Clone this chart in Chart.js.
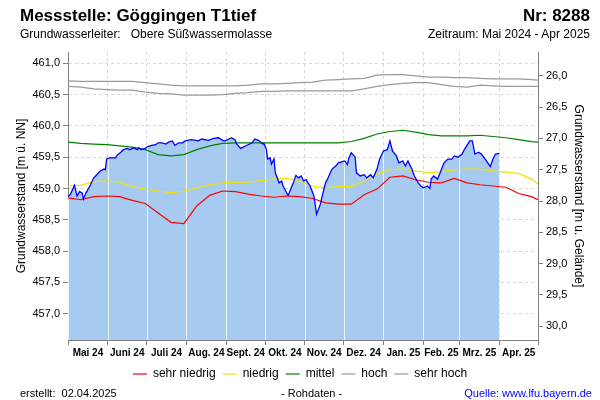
<!DOCTYPE html>
<html lang="de">
<head>
<meta charset="utf-8">
<title>Messstelle Göggingen T1tief</title>
<script src="https://cdn.jsdelivr.net/npm/chart.js@4.4.1/dist/chart.umd.min.js"></script>
<style>
  html, body { margin: 0; padding: 0; background: #fff; }
  #wrap { position: relative; width: 600px; height: 400px; font-family: "Liberation Sans", Arial, sans-serif; color: #000; }
  #wrap canvas { position: absolute; left: 0; top: 0; }
  .txt { position: absolute; white-space: pre; line-height: 1; }
  .titel { top: 7px; font-size: 17px; font-weight: bold; }
  .unter { top: 28px; font-size: 12px; }
  .fuss { top: 388px; font-size: 11px; }
</style>
</head>
<body>
<div id="wrap">
  <canvas id="grafik" width="600" height="400"></canvas>
  <div class="txt titel" style="left:20px">Messstelle: Göggingen T1tief</div>
  <div class="txt titel" style="right:10px">Nr: 8288</div>
  <div class="txt unter" style="left:20px">Grundwasserleiter:   Obere Süßwassermolasse</div>
  <div class="txt unter" style="right:10px">Zeitraum: Mai 2024 - Apr 2025</div>
  <div class="txt fuss" style="left:20px">erstellt:  02.04.2025</div>
  <div class="txt fuss" style="left:281px">- Rohdaten -</div>
  <div class="txt fuss" style="right:8px;color:#0000ff">Quelle: www.lfu.bayern.de</div>
</div>
<script>
// Tage ab 01.05.2024
const monatsGrenzen = [0, 31, 61, 92, 123, 153, 184, 214, 245, 276, 304, 335, 365];
const monatsLabels = ['Mai 24', 'Juni 24', 'Juli 24', 'Aug. 24', 'Sept. 24', 'Okt. 24', 'Nov. 24', 'Dez. 24', 'Jan. 25', 'Feb. 25', 'Mrz. 25', 'Apr. 25'];
const linksTicks = [457, 457.5, 458, 458.5, 459, 459.5, 460, 460.5, 461];
const rechtsTicks = [26, 26.5, 27, 27.5, 28, 28.5, 29, 29.5, 30];
const gelaende = 486.80;
const yMin = 456.58, yMax = 461.18;

// Messwerte (Rohdaten)
const messTage = [0, 2, 5, 7, 9, 11, 12, 14, 17, 20, 22, 25, 28, 29, 30, 32, 37, 38, 41, 43, 46, 48, 51, 54, 55, 57,
  60, 62, 65, 68, 70, 73, 76, 78, 81, 83, 86, 89, 91, 96, 101, 104, 109, 113, 117, 120, 122, 125, 127, 130, 131, 134,
  136, 139, 143, 145, 148, 151, 152, 154, 155, 157, 158, 160, 161, 164, 166, 167, 169, 171, 173, 175, 177, 179, 181,
  183, 185, 186, 188, 191, 193, 196, 198, 200, 202, 205, 208, 210, 213, 215, 217, 218, 220, 223, 224, 227, 230, 232,
  235, 237, 240, 242, 245, 248, 250, 252, 255, 257, 260, 262, 264, 267, 269, 272, 274, 276, 279, 281, 282, 284, 287,
  289, 292, 295, 298, 300, 303, 306, 308, 312, 314, 316, 319, 321, 324, 328, 330, 332, 335];
const messWerte = [458.87, 458.91, 459.05, 458.88, 458.95, 458.93, 458.83, 458.93, 459.04, 459.17, 459.21, 459.28,
  459.31, 459.30, 459.47, 459.49, 459.49, 459.53, 459.58, 459.62, 459.64, 459.62, 459.65, 459.62, 459.65, 459.62,
  459.64, 459.67, 459.69, 459.70, 459.73, 459.73, 459.71, 459.74, 459.76, 459.69, 459.73, 459.73, 459.76, 459.78,
  459.76, 459.79, 459.77, 459.80, 459.81, 459.77, 459.76, 459.79, 459.81, 459.77, 459.71, 459.64, 459.66, 459.69,
  459.73, 459.79, 459.77, 459.71, 459.72, 459.63, 459.47, 459.49, 459.39, 459.47, 459.25, 459.09, 459.12, 459.04,
  458.96, 458.89, 458.99, 459.09, 459.21, 459.17, 459.20, 459.12, 459.14, 459.10, 459.04, 458.88, 458.59, 458.75,
  458.93, 459.09, 459.17, 459.31, 459.36, 459.41, 459.43, 459.44, 459.38, 459.48, 459.57, 459.50, 459.25, 459.20,
  459.22, 459.17, 459.22, 459.17, 459.31, 459.47, 459.60, 459.62, 459.76, 459.60, 459.52, 459.41, 459.44, 459.36,
  459.44, 459.31, 459.20, 459.09, 459.04, 459.01, 459.04, 459.00, 459.15, 459.20, 459.15, 459.25, 459.41, 459.47,
  459.47, 459.52, 459.50, 459.55, 459.63, 459.76, 459.76, 459.55, 459.58, 459.55, 459.47, 459.35, 459.47, 459.55, 459.56];

// Statistik (Tageswerte der Vergleichsreihe)
const statTage = [0, 10, 20, 30, 40, 50, 60, 70, 80, 90, 100, 110, 120, 130, 140, 150, 160, 170, 180, 190, 200, 210,
  220, 230, 240, 250, 260, 270, 280, 290, 300, 310, 320, 330, 340, 350, 360, 365];
const sehrNiedrig = [458.85, 458.82, 458.87, 458.88, 458.87, 458.81, 458.76, 458.61, 458.46, 458.44, 458.72, 458.89,
  458.96, 458.95, 458.91, 458.88, 458.86, 458.88, 458.87, 458.84, 458.77, 458.75, 458.75, 458.90, 458.99, 459.18,
  459.20, 459.14, 459.10, 459.09, 459.16, 459.09, 459.06, 459.04, 459.02, 458.92, 458.87, 458.82];
const niedrig = [459.04, 459.05, 459.11, 459.12, 459.10, 459.03, 458.99, 458.96, 458.93, 458.96, 459.01, 459.06,
  459.09, 459.10, 459.10, 459.13, 459.15, 459.16, 459.12, 459.04, 459.01, 459.03, 459.03, 459.12, 459.23, 459.30,
  459.31, 459.28, 459.25, 459.27, 459.30, 459.31, 459.31, 459.28, 459.26, 459.24, 459.15, 459.07];
const mittel = [459.74, 459.72, 459.71, 459.70, 459.68, 459.66, 459.62, 459.54, 459.52, 459.54, 459.62, 459.68,
  459.72, 459.73, 459.73, 459.73, 459.73, 459.73, 459.73, 459.73, 459.73, 459.73, 459.75, 459.80, 459.87, 459.91,
  459.93, 459.90, 459.86, 459.84, 459.84, 459.84, 459.85, 459.83, 459.81, 459.78, 459.75, 459.74];
const hoch = [460.63, 460.62, 460.59, 460.58, 460.57, 460.57, 460.54, 460.52, 460.51, 460.49, 460.49, 460.49, 460.50,
  460.52, 460.53, 460.55, 460.55, 460.56, 460.56, 460.56, 460.56, 460.56, 460.56, 460.59, 460.63, 460.66, 460.68,
  460.69, 460.69, 460.66, 460.63, 460.62, 460.65, 460.64, 460.63, 460.63, 460.63, 460.63];
const sehrHoch = [460.72, 460.71, 460.71, 460.71, 460.71, 460.71, 460.69, 460.67, 460.65, 460.64, 460.64, 460.64,
  460.64, 460.64, 460.65, 460.67, 460.67, 460.68, 460.69, 460.70, 460.73, 460.74, 460.75, 460.76, 460.81, 460.82,
  460.82, 460.80, 460.78, 460.78, 460.77, 460.77, 460.76, 460.75, 460.75, 460.75, 460.74, 460.73];

const monatsMitte = monatsLabels.map((_, i) => (monatsGrenzen[i] + monatsGrenzen[i + 1]) / 2);
const punkte = (tage, werte) => tage.map((t, i) => ({ x: t, y: werte[i] }));
const istGrenze = ctx => ctx.tick && monatsGrenzen.includes(ctx.tick.value);
const komma = v => v.toFixed(1).replace('.', ',');

Chart.defaults.font.family = '"Liberation Sans", Arial, sans-serif';
Chart.defaults.color = '#000';

// helle Monatslinien in der Flaeche
const monatsLinien = {
  id: 'monatsLinien',
  afterDatasetDraw(chart, args) {
    if (args.index !== 1) return;
    const pts = args.meta.data;
    const { ctx, chartArea: a } = chart;
    const x = chart.scales.x;
    ctx.save();
    ctx.beginPath();
    ctx.moveTo(pts[0].x, a.bottom);
    pts.forEach(p => ctx.lineTo(p.x, p.y));
    ctx.lineTo(pts[pts.length - 1].x, a.bottom);
    ctx.closePath();
    ctx.clip();
    ctx.strokeStyle = 'rgba(255,255,255,0.8)';
    ctx.lineWidth = 1;
    monatsGrenzen.forEach(d => {
      const px = Math.round(x.getPixelForValue(d)) + 0.5;
      ctx.beginPath(); ctx.moveTo(px, a.top); ctx.lineTo(px, a.bottom); ctx.stroke();
    });
    ctx.restore();
  }
};

const linie = (label, daten, farbe) => ({
  label, data: punkte(statTage, daten), borderColor: farbe, backgroundColor: farbe,
  borderWidth: 1.2, pointRadius: 0, fill: false, order: 1
});

new Chart(document.getElementById('grafik'), {
  type: 'line',
  data: {
    datasets: [
      { label: 'Messwerte', data: punkte(messTage, messWerte), borderColor: '#0000ff', borderWidth: 1.3, pointRadius: 0, fill: false, order: 0 },
      { label: 'Fläche', data: punkte(messTage, messWerte), borderColor: 'rgba(0,0,0,0)', backgroundColor: '#a6caf0', borderWidth: 1, pointRadius: 0, fill: 'start', order: 2 },
      linie('sehr niedrig', sehrNiedrig, '#ff0000'),
      linie('niedrig', niedrig, '#f5e000'),
      linie('mittel', mittel, '#008000'),
      linie('hoch', hoch, '#9a9a9a'),
      linie('sehr hoch', sehrHoch, '#9a9a9a')
    ]
  },
  options: {
    responsive: false,
    animation: false,
    layout: { padding: { top: 52, left: 0, right: 0, bottom: 10 } },
    plugins: {
      tooltip: { enabled: false },
      legend: {
        position: 'bottom',
        labels: {
          filter: item => item.datasetIndex >= 2,
          usePointStyle: true, pointStyle: 'line', pointStyleWidth: 14,
          font: { size: 12 }, color: '#000', padding: 7
        }
      }
    },
    scales: {
      x: {
        type: 'linear', min: 0, max: 365,
        afterBuildTicks: s => { s.ticks = monatsGrenzen.concat(monatsMitte).sort((a, b) => a - b).map(v => ({ value: v })); },
        afterFit: s => { s.height = 21; },
        ticks: {
          autoSkip: false, maxRotation: 0, padding: 2, font: { size: 10, weight: 'bold' }, color: '#000',
          callback: v => { const i = monatsMitte.indexOf(v); return i >= 0 ? monatsLabels[i] : ''; }
        },
        grid: {
          color: c => istGrenze(c) ? '#d6d6d6' : 'rgba(0,0,0,0)',
          tickColor: c => istGrenze(c) ? '#808080' : 'rgba(0,0,0,0)',
          tickLength: 5, tickBorderDash: []
        },
        border: { color: '#808080', dash: [3, 3] }
      },
      y: {
        position: 'left', min: yMin, max: yMax,
        afterBuildTicks: s => { s.ticks = linksTicks.map(v => ({ value: v })); },
        afterFit: s => { s.width = 68; },
        ticks: { callback: komma, font: { size: 11 }, color: '#000', padding: 3 },
        grid: { color: '#d6d6d6', tickColor: '#808080', tickLength: 5, tickBorderDash: [] },
        border: { color: '#808080', dash: [3, 3] },
        title: { display: true, text: 'Grundwasserstand [m ü. NN]', font: { size: 12 }, color: '#000', padding: { top: 14, bottom: 0 } }
      },
      y2: {
        position: 'right', reverse: true, min: gelaende - yMax, max: gelaende - yMin,
        afterBuildTicks: s => { s.ticks = rechtsTicks.map(v => ({ value: v })); },
        afterFit: s => { s.width = 62; },
        ticks: { callback: komma, font: { size: 11 }, color: '#000', padding: 3 },
        grid: { drawOnChartArea: false, tickColor: '#808080', tickLength: 5, tickBorderDash: [] },
        border: { color: '#808080' },
        title: { display: true, text: 'Grundwasserstand [m u. Gelände]', font: { size: 12 }, color: '#000', padding: { top: 14, bottom: 0 } }
      }
    }
  },
  plugins: [monatsLinien]
});
</script>
</body>
</html>
